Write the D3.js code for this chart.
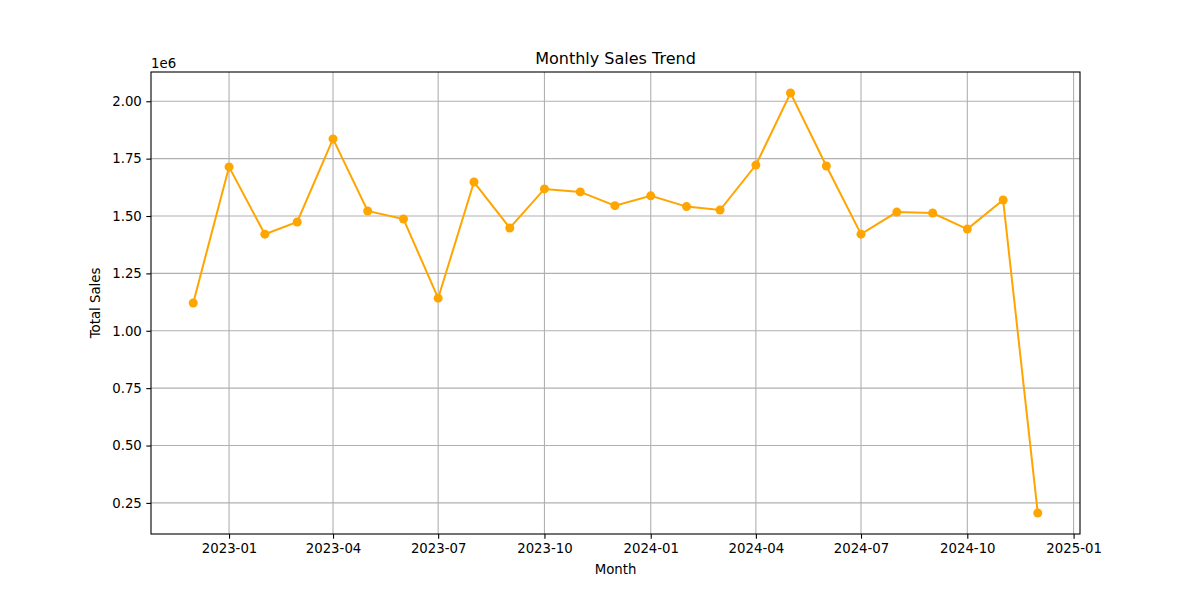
<!DOCTYPE html>
<html>
<head>
<meta charset="utf-8">
<script src="https://cdn.jsdelivr.net/npm/d3@7"></script>
<style>
body{margin:0;background:#fff;}
svg text{font-family:"DejaVu Sans",sans-serif;fill:#000;}
</style>
</head>
<body>
<svg id="chart" width="1200" height="600"></svg>
<script>
// monthly totals, first day of each month
var months = ["2022-12","2023-01","2023-02","2023-03","2023-04","2023-05","2023-06","2023-07","2023-08","2023-09","2023-10","2023-11","2023-12",
	"2024-01","2024-02","2024-03","2024-04","2024-05","2024-06","2024-07","2024-08","2024-09","2024-10","2024-11","2024-12"];
var sales = [1121000,1714000,1421000,1474000,1836000,1522000,1487000,1142000,1648000,1448000,1618000,1605000,1545000,
	1588000,1541000,1526000,1722000,2036000,1718000,1421000,1517000,1513000,1443000,1570000,206000];
var xTicks = ["2023-01","2023-04","2023-07","2023-10","2024-01","2024-04","2024-07","2024-10","2025-01"];
var yTicks = [0.25,0.5,0.75,1.0,1.25,1.5,1.75,2.0];

var parse = d3.timeParse("%Y-%m");
// "top" is taken by window.top, so plot edges get their own names
var plotL = 151, plotR = 1080, plotT = 72, plotB = 534;
var svg = d3.select("#chart");

var dates = months.map(parse);
var span = dates[dates.length-1] - dates[0];
var x = d3.scaleTime()
	.domain([new Date(+dates[0] - span*0.05), new Date(+dates[dates.length-1] + span*0.05)])
	.range([plotL, plotR]);
var yMin = d3.min(sales), yMax = d3.max(sales), ySpan = yMax - yMin;
var y = d3.scaleLinear()
	.domain([(yMin - ySpan*0.05)/1e6, (yMax + ySpan*0.05)/1e6])
	.range([plotB, plotT]);

//grid
var g = svg.append("g");
g.selectAll(".vg").data(xTicks.map(parse)).enter().append("line")
	.attr("x1", function(d){return x(d);}).attr("x2", function(d){return x(d);})
	.attr("y1", plotT).attr("y2", plotB)
	.attr("stroke", "#b0b0b0").attr("stroke-width", 1.1);
g.selectAll(".hg").data(yTicks).enter().append("line")
	.attr("x1", plotL).attr("x2", plotR)
	.attr("y1", function(d){return y(d);}).attr("y2", function(d){return y(d);})
	.attr("stroke", "#b0b0b0").attr("stroke-width", 1.1);

//axes
var xAxis = d3.axisBottom(x).tickValues(xTicks.map(parse)).tickFormat(d3.timeFormat("%Y-%m")).tickSizeOuter(0).tickSize(4.7).tickPadding(4.5);
var yAxis = d3.axisLeft(y).tickValues(yTicks).tickFormat(d3.format(".2f")).tickSizeOuter(0).tickSize(4.7).tickPadding(4.5);
var xa = svg.append("g").attr("transform", "translate(0," + plotB + ")").call(xAxis);
var ya = svg.append("g").attr("transform", "translate(" + plotL + ",0)").call(yAxis);
[xa, ya].forEach(function(a){
	a.select(".domain").remove();
	a.selectAll("text").attr("font-size", 13.3).attr("font-family", "DejaVu Sans").attr("fill", "#000");
	a.selectAll("line").attr("stroke", "#000").attr("stroke-width", 1.1);
});

//frame
svg.append("rect").attr("x", plotL).attr("y", plotT).attr("width", plotR-plotL).attr("height", plotB-plotT)
	.attr("fill", "none").attr("stroke", "#000").attr("stroke-width", 1.1);

//series
var pts = dates.map(function(d,i){return [d, sales[i]/1e6];});
svg.append("path").datum(pts)
	.attr("d", d3.line().x(function(d){return x(d[0]);}).y(function(d){return y(d[1]);}))
	.attr("fill", "none").attr("stroke", "#FFA500").attr("stroke-width", 2);
svg.selectAll(".pt").data(pts).enter().append("circle")
	.attr("cx", function(d){return x(d[0]);}).attr("cy", function(d){return y(d[1]);})
	.attr("r", 4.5).attr("fill", "#FFA500");

//texts
svg.append("text").text("Monthly Sales Trend").attr("x", (plotL+plotR)/2).attr("y", 64)
	.attr("text-anchor", "middle").attr("font-size", 16);
svg.append("text").text("Month").attr("x", (plotL+plotR)/2).attr("y", 574)
	.attr("text-anchor", "middle").attr("font-size", 13.3);
svg.append("text").text("Total Sales").attr("transform", "translate(100," + (plotT+plotB)/2 + ") rotate(-90)")
	.attr("text-anchor", "middle").attr("font-size", 13.3);
svg.append("text").text("1e6").attr("x", 151).attr("y", 68).attr("font-size", 13.3);
</script>
</body>
</html>
